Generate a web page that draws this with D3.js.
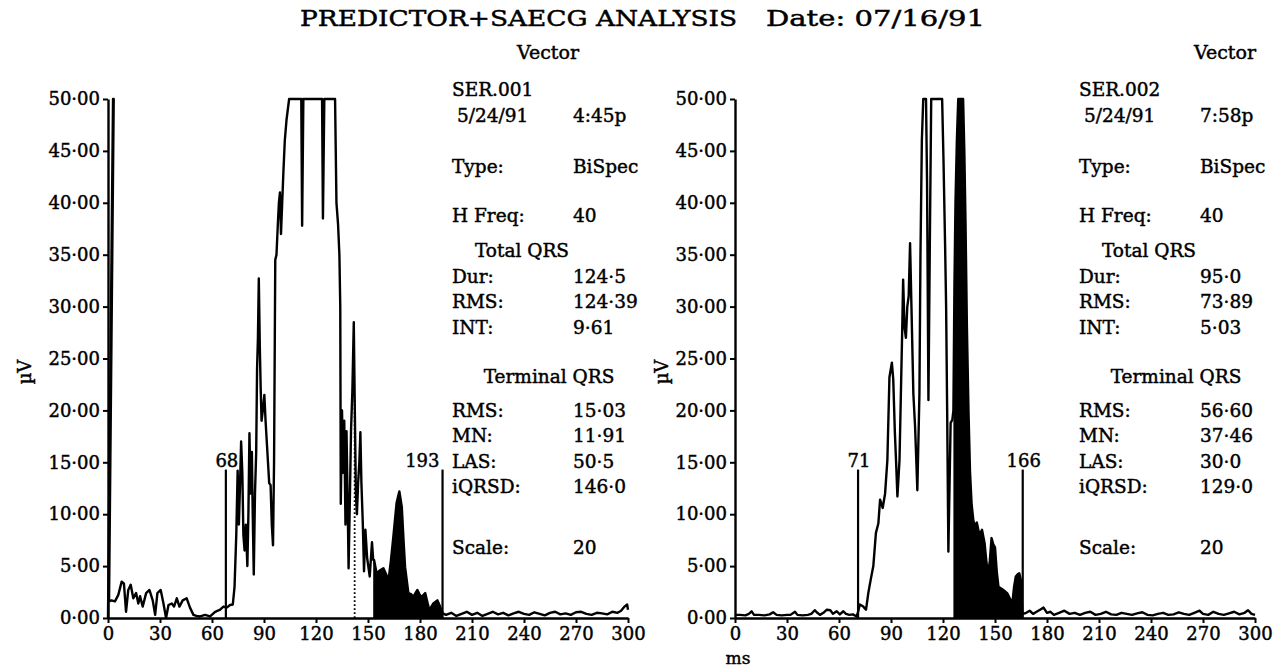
<!DOCTYPE html>
<meta charset="utf-8" />
<title>PREDICTOR+SAECG ANALYSIS</title>
<script src="https://d3js.org/d3.v7.min.js"></script>
<style>
  body { margin: 0; background: #fff; }
  svg { display: block; font-family: "DejaVu Serif", serif; }
  svg text { fill: #000; stroke: #000; stroke-width: 0.45px; }
</style>
<div id="chart"></div>
<script>
  var width = 1282, height = 668;

  // tick values
  var xTicks = [0, 30, 60, 90, 120, 150, 180, 210, 240, 270, 300];
  var yTicks = [0, 5, 10, 15, 20, 25, 30, 35, 40, 45, 50];

  // text panel
  var infoLabels = ["Type:", "H Freq:", "Dur:", "RMS:", "INT:", "RMS:", "MN:", "LAS:", "iQRSD:", "Scale:"];
  var leftHeader = ["SER.001", "5/24/91", "4:45p"];
  var rightHeader = ["SER.002", "5/24/91", "7:58p"];
  var leftValues = ["BiSpec", "40", "124·5", "124·39", "9·61", "15·03", "11·91", "50·5", "146·0", "20"];
  var rightValues = ["BiSpec", "40", "95·0", "73·89", "5·03", "56·60", "37·46", "30·0", "129·0", "20"];

  // onset / offset markers (ms) and their height (µV)
  var leftMarkers = [68, 193];
  var rightMarkers = [71, 166];
  var markerHeight = 14.3;

  // shaded terminal part (ms)
  var leftFill = [153, 193.5];
  var rightFill = [126, 166.2];

  // vector magnitude, [ms, µV]
  var leftTrace = [
    [0, 0], [2.9, 50], [3.3, 50], [0.6, 1.6],
    [2, 1.7], [4, 1.6], [5.9, 2.2], [7.9, 3.5], [9.2, 3.3], [10.4, 0.6], [11.7, 2.7], [13.1, 3.2],
    [14.6, 1.9], [16.2, 2.4], [17.5, 1.4], [18.5, 2.1], [20, 1.1], [22, 2.4], [23.9, 2.7], [25.8, 1.7],
    [27.2, 0.3], [28.5, 2.4], [30.4, 2.7], [32, 1.4], [33.5, 0], [34.9, 1.25], [36.8, 1.4], [38.1, 1.1],
    [39.7, 1.9], [41.2, 1.1], [43.1, 1.7], [45.4, 1.9], [47.3, 1.0], [49.3, 0.3], [51, 0.2], [53.1, 0.15],
    [56, 0.3], [58.9, 0.15], [61.8, 0.6], [64.7, 0.8], [66.6, 1.1], [68.5, 1.0], [70.4, 1.25], [72, 1.3],
    [73, 3], [74, 8], [74.8, 14.2], [75.5, 9], [76.2, 13], [76.8, 17], [77.5, 14], [78.1, 8], [78.8, 6.5],
    [79.5, 9], [80.4, 5], [81, 10], [81.6, 17.8], [82.3, 12], [83, 16], [83.5, 10], [84.1, 4.2], [84.8, 12],
    [85.5, 16], [86, 24], [86.5, 27], [87, 32.7], [87.6, 26], [88.1, 22], [88.6, 19], [89.3, 20], [90.2, 21.5],
    [90.9, 19], [91.6, 17], [92.3, 15], [93, 13], [93.8, 12.8], [94.5, 9], [95.2, 7], [95.8, 15], [96.5, 34.5],
    [97.2, 35], [98, 38], [98.6, 40], [99.2, 41], [99.8, 37], [100.5, 40], [101.2, 43], [102, 46], [103, 48],
    [104.5, 50], [111.5, 50], [112, 37.8], [112.7, 50], [123.5, 50], [124, 38.5], [124.8, 50], [131, 50],
    [131.8, 40], [132.7, 38], [133.5, 35], [134, 30], [134.3, 11], [135, 20], [135.7, 14], [136.3, 19],
    [137, 9], [137.6, 18], [138.2, 12], [138.8, 4.8], [139.6, 12], [140.2, 18], [141, 22], [141.8, 28.5],
    [142.4, 20], [143, 12], [143.6, 10], [144.3, 13], [145, 15], [145.6, 17.9], [146.2, 13], [147, 9.1],
    [147.7, 4.5], [148.5, 8.5], [149.5, 5.8], [151, 4], [152.3, 7.3], [153, 5.6],
    [153.5, 5.6], [155, 4.3], [157, 4.6], [158.9, 4.8], [160.5, 4.2], [161.8, 3.6], [163.2, 5.5], [164.6, 7.8],
    [166.5, 11.1], [168.1, 12.2], [169.5, 10.7], [170.5, 7.5], [171.4, 4.9], [173.3, 2.4], [174.8, 2.3],
    [176.2, 2.05], [178.5, 2.7], [180, 2.2], [181, 2.05], [183, 2.4], [184.3, 1.5], [185.4, 0.77], [187.7, 1.4],
    [190, 1.7], [191.6, 1.1], [193.1, 0.45],
    [195, 0.3], [198, 0.5], [201, 0.2], [204, 0.4], [207, 0.6], [210, 0.3], [213, 0.5], [216, 0.2], [219, 0.4],
    [222, 0.6], [225, 0.35], [228, 0.5], [231, 0.25], [234, 0.45], [237, 0.6], [240, 0.4], [243, 0.3],
    [246, 0.55], [249, 0.4], [252, 0.25], [255, 0.5], [258, 0.6], [261, 0.35], [264, 0.45], [267, 0.3],
    [270, 0.55], [273, 0.6], [276, 0.4], [279, 0.3], [282, 0.5], [285, 0.45], [288, 0.35], [291, 0.6],
    [294, 0.5], [296, 0.7], [298, 1.1], [299.5, 1.3], [300, 0.8]
  ];

  var rightTrace = [
    [0, 0.3], [3, 0.3], [6, 0.25], [8, 0.4], [9.6, 0.64], [11, 0.3], [14, 0.3], [17, 0.25], [20, 0.35],
    [22, 0.55], [24, 0.3], [27, 0.25], [30, 0.3], [32, 0.3], [34.6, 0.6], [36, 0.3], [39, 0.25], [42, 0.3],
    [44, 0.4], [46, 0.75], [47.5, 0.5], [49, 0.3], [51, 0.5], [53, 0.8], [55, 0.75], [56.5, 0.4], [58.7, 0.65],
    [60.5, 0.35], [62.5, 0.65], [64, 0.4], [66, 0.3], [68, 0.35], [70.2, 0.15], [71, 0.6], [72, 1.3], [74, 1.1],
    [75.6, 0.8], [76.9, 2.4], [78.3, 3.7], [79.8, 5], [81.3, 8.2], [82.7, 9.1], [83.7, 11.4], [85.2, 10.6],
    [86.6, 12], [87.9, 15.2], [89.1, 23.2], [90.5, 24.6], [91.3, 23], [92.2, 18], [92.9, 15.2], [93.7, 11.7],
    [94.9, 15.2], [95.7, 21.6], [96.5, 28], [97, 32.6], [97.8, 28], [98.6, 27], [99.4, 30], [100.2, 31],
    [101, 36.1], [101.8, 30], [102.9, 21.6], [103.9, 18.4], [105.2, 12.3], [106.4, 21.6], [107, 35],
    [107.8, 46], [108.6, 50], [110.2, 50], [110.8, 42], [111.6, 21], [112.4, 36], [113.2, 50], [119.5, 50],
    [120.3, 44], [121.2, 36], [121.8, 30], [122.4, 20], [123.1, 6.4], [123.8, 13], [124.4, 18.8], [125.4, 19.1],
    [126, 20], [126.6, 32], [127.2, 40], [128, 46], [128.8, 50], [131.6, 50], [132.3, 45], [133, 38],
    [133.8, 28], [134.7, 20], [135.6, 14], [136.5, 11], [137.5, 9.4], [138.5, 8.8], [139.5, 9.2], [141, 8],
    [142.5, 8.5], [144, 7.2], [145, 5.5], [146, 4.1], [147, 5.5], [148, 7.7], [149, 7.1], [150, 6.8],
    [151, 4.5], [152, 3.0], [154, 2.8], [155.5, 2.6], [157, 2.4], [158.5, 1.9], [160, 1.4], [161, 3.0],
    [162, 4.0], [163, 4.2], [164, 4.3], [165, 3.6], [165.7, 0.6], [166.2, 0.4],
    [168, 0.5], [170, 0.7], [172, 0.4], [174, 0.6], [176, 0.8], [178, 1.0], [180, 0.5], [182, 0.6], [184, 0.3],
    [187, 0.5], [190, 0.7], [193, 0.4], [196, 0.5], [199, 0.3], [202, 0.5], [205, 0.6], [208, 0.3], [211, 0.4],
    [214, 0.6], [217, 0.35], [220, 0.3], [223, 0.5], [226, 0.4], [229, 0.3], [232, 0.45], [235, 0.55],
    [238, 0.3], [241, 0.25], [244, 0.4], [247, 0.5], [250, 0.3], [253, 0.35], [256, 0.55], [259, 0.4],
    [262, 0.3], [265, 0.5], [268, 0.7], [270, 0.4], [273, 0.3], [276, 0.6], [279, 0.4], [282, 0.3],
    [285, 0.45], [288, 0.6], [291, 0.35], [294, 0.5], [296, 0.75], [298, 0.4], [300, 0.3]
  ];

  // dotted line in the left plot (ms, up to µV)
  var leftDotted = [142.3, 21];

  var charts = [
    { trace: leftTrace, left: 108, fill: leftFill, markers: leftMarkers, dotted: leftDotted,
      header: leftHeader, values: leftValues, panelX: 452, vectorX: 548, muX: 25, endAnchor: "end" },
    { trace: rightTrace, left: 735, fill: rightFill, markers: rightMarkers, dotted: null,
      header: rightHeader, values: rightValues, panelX: 1079, vectorX: 1225, muX: 662, endAnchor: "middle" }
  ];

  // y of each text row (centre line)
  var rowY = [166, 215, 276, 301.5, 327, 410, 435.5, 461, 486.5, 547];

  function fmtY(d) {
    return d3.format(".2f")(d).replace(".", "·");
  }

  var svg = d3
    .select("div#chart")
    .append("svg")
    .attr("width", width)
    .attr("height", height);

  // title
  svg.append("text")
    .attr("x", 300).attr("y", 26)
    .attr("font-size", 23)
    .attr("textLength", 437).attr("lengthAdjust", "spacingAndGlyphs")
    .text("PREDICTOR+SAECG ANALYSIS");
  svg.append("text")
    .attr("x", 766).attr("y", 26)
    .attr("font-size", 23)
    .attr("textLength", 219).attr("lengthAdjust", "spacingAndGlyphs")
    .text("Date: 07/16/91");

  charts.forEach(function (c) {
    var x = d3.scaleLinear().domain([0, 300]).range([c.left, c.left + 520]);
    var y = d3.scaleLinear().domain([0, 50]).range([618, 99]);
    var g = svg.append("g");

    // shaded terminal area
    var fillPts = c.trace.filter(function (d) { return d[0] >= c.fill[0] && d[0] <= c.fill[1]; });
    g.append("path")
      .datum(fillPts)
      .attr("fill", "#000")
      .attr("d", d3.area().x(function (d) { return x(d[0]); }).y0(y(0)).y1(function (d) { return y(d[1]); }));

    // trace
    g.append("path")
      .datum(c.trace)
      .attr("fill", "none")
      .attr("stroke", "#000")
      .attr("stroke-width", 2.4)
      .attr("stroke-linejoin", "round")
      .attr("d", d3.line().x(function (d) { return x(d[0]); }).y(function (d) { return y(d[1]); }));

    if (c.dotted) {
      g.append("line")
        .attr("x1", x(c.dotted[0])).attr("x2", x(c.dotted[0]))
        .attr("y1", y(0)).attr("y2", y(c.dotted[1]))
        .attr("stroke", "#000").attr("stroke-width", 1.8)
        .attr("stroke-dasharray", "1.8,2.2");
    }

    // markers
    c.markers.forEach(function (m, i) {
      g.append("line")
        .attr("x1", x(m)).attr("x2", x(m))
        .attr("y1", y(0)).attr("y2", y(markerHeight))
        .attr("stroke", "#000").attr("stroke-width", 2.2);
      var anchor = i === 0 ? "middle" : c.endAnchor;
      g.append("text")
        .attr("x", anchor === "end" ? x(m) - 3 : x(m) + 1)
        .attr("y", y(markerHeight) - 3)
        .attr("text-anchor", anchor)
        .attr("font-size", 18)
        .text(m);
    });

    // axes
    var yAxis = g.append("g")
      .attr("transform", "translate(" + c.left + ",0)")
      .call(d3.axisLeft(y).tickValues(yTicks).tickSize(5).tickSizeOuter(0).tickPadding(3).tickFormat(fmtY));
    var xAxis = g.append("g")
      .attr("transform", "translate(0,618)")
      .call(d3.axisBottom(x).tickValues(xTicks).tickSize(5).tickSizeOuter(0).tickPadding(4));
    [yAxis, xAxis].forEach(function (a) {
      a.attr("font-family", null).attr("font-size", 18);
      a.select(".domain").attr("stroke-width", 2.4);
      a.selectAll(".tick line").attr("stroke-width", 2);
    });

    // µV label
    g.append("text")
      .attr("transform", "translate(" + (c.muX + 6) + ",372) rotate(-90)")
      .attr("text-anchor", "middle")
      .attr("font-size", 18)
      .text("µV");

    // info panel
    g.append("text").attr("x", c.vectorX).attr("y", 59).attr("text-anchor", "middle")
      .attr("font-size", 19).text("Vector");
    g.append("text").attr("x", c.panelX).attr("y", 96).attr("font-size", 18.5).text(c.header[0]);
    g.append("text").attr("x", c.panelX + 5).attr("y", 122).attr("font-size", 18.5).text(c.header[1]);
    g.append("text").attr("x", c.panelX + 121).attr("y", 122).attr("font-size", 18.5).text(c.header[2]);
    g.append("text").attr("x", c.panelX + 70).attr("y", 257).attr("text-anchor", "middle")
      .attr("font-size", 18.5).text("Total QRS");
    g.append("text").attr("x", c.panelX + 97).attr("y", 383).attr("text-anchor", "middle")
      .attr("font-size", 18.5).text("Terminal QRS");

    infoLabels.forEach(function (lab, i) {
      g.append("text").attr("x", c.panelX).attr("y", rowY[i] + 6.5)
        .attr("font-size", 18.5).text(lab);
      g.append("text").attr("x", c.panelX + 121).attr("y", rowY[i] + 6.5)
        .attr("font-size", 18.5).text(c.values[i]);
    });
  });

  // x axis unit
  svg.append("text").attr("x", 738).attr("y", 664).attr("text-anchor", "middle")
    .attr("font-size", 17).text("ms");
</script>
